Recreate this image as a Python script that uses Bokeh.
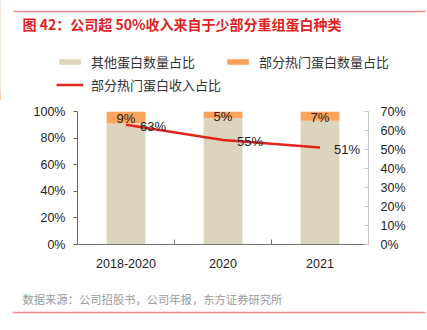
from bokeh.plotting import figure
from bokeh.layouts import column
from bokeh.models import (Range1d, LinearAxis, FixedTicker, Label,
                          Legend, LegendItem, ColumnDataSource, LabelSet)
from bokeh.embed import file_html
from bokeh.resources import INLINE
from bokeh.core.properties import value

# ---- data ----
categories = ["2018-2020", "2020", "2021"]
other_share = [91, 95, 93]          # 其他蛋白数量占比 (%)
hot_share = [9, 5, 7]               # 部分热门蛋白数量占比 (%)
hot_revenue = [63, 55, 51]          # 部分热门蛋白收入占比 (%)
left_ticks = [0, 20, 40, 60, 80, 100]
right_ticks = [0, 10, 20, 30, 40, 50, 60, 70]
series_names = ["其他蛋白数量占比", "部分热门蛋白数量占比", "部分热门蛋白收入占比"]

title_text = "图 42：公司超 50%收入来自于少部分重组蛋白种类"
source_text = "数据来源：公司招股书，公司年报，东方证券研究所"

# ---- derived ----
xs = [i + 0.5 for i in range(len(categories))]
tops = [o + h for o, h in zip(other_share, hot_share)]
src = ColumnDataSource(dict(
    x=xs, other=other_share, top=tops,
    hot_mid=[o + h / 2 for o, h in zip(other_share, hot_share)],
    hot_lbl=[f"{h}%" for h in hot_share],
    rev=hot_revenue,
    rev_lbl=[f"{r}%" for r in hot_revenue],
))

W = 427
HEAD_H, MAIN_H, FOOT_H = 100, 180, 50
FL, FR = 77, 368          # frame left / right (px)
FT, FB = 111, 244         # frame top / bottom in page px

BEIGE = "#ddd4bd"
ORANGE = "#fca25b"
RED = "#e3231c"
RULE = "#f08a8a"
AX_FONT = "Liberation Sans"
AX_SIZE = "12.5px"
CJK = "Noto Sans CJK SC"


def blank(h):
    # pixel-like ranges: x = px from left, y = px from top of this strip
    f = figure(width=W, height=h, output_backend="svg", toolbar_location=None,
               x_axis_location=None, y_axis_location=None,
               x_range=Range1d(0, W), y_range=Range1d(h, 0),
               min_border=0, min_border_left=0, min_border_right=0,
               min_border_top=0, min_border_bottom=0, frame_align=False,
               background_fill_color="white", border_fill_color="white")
    f.outline_line_color = None
    f.grid.visible = False
    return f


# ---- header: rule, title, legend ----
head = blank(HEAD_H)
head.segment(x0=[13], y0=[11], x1=[425], y1=[11], line_color=RULE, line_width=1.5)
head.add_layout(Label(x=22, y=23, text=title_text, text_baseline="middle", text_font=CJK,
                      text_font_size="14px", text_font_style="bold", text_color="#e0231f"))
# legend glyph renderers (same data, on an off-screen range of the header)
head.extra_x_ranges = {"off": Range1d(100, 101)}
h_other = head.vbar(x="x", bottom=0, top="other", width=0.4, source=src,
                    x_range_name="off", fill_color=BEIGE, line_color=None)
h_hot = head.vbar(x="x", bottom="other", top="top", width=0.4, source=src,
                  x_range_name="off", fill_color=ORANGE, line_color=None)
h_line = head.line(x="x", y="rev", source=src, x_range_name="off",
                   line_color=RED, line_width=2.5)
legend = Legend(items=[
    LegendItem(label=series_names[0], renderers=[h_other]),
    LegendItem(label=series_names[1], renderers=[h_hot]),
    LegendItem(label=series_names[2], renderers=[h_line]),
], orientation="horizontal", ncols=2, location=(56, HEAD_H - 94),
    padding=0, margin=0, spacing=3, glyph_width=27, glyph_height=7,
    label_height=20, label_standoff=8, border_line_color=None,
    background_fill_alpha=0, label_text_font=CJK,
    label_text_font_size="13px", label_text_color="#333333")
head.add_layout(legend, "center")

# ---- main chart ----
p = figure(width=W, height=MAIN_H, output_backend="svg", toolbar_location=None,
           x_range=Range1d(0, len(categories)), y_range=Range1d(0, 100),
           min_border_left=FL, min_border_right=W - FR,
           min_border_top=FT - HEAD_H, min_border_bottom=HEAD_H + MAIN_H - FB,
           frame_align=False,
           background_fill_color="white", border_fill_color="white")
p.extra_y_ranges = {"rev": Range1d(0, 70)}
p.outline_line_color = None
p.xgrid.visible = False
p.ygrid.visible = False

xa = p.xaxis[0]
xa.ticker = FixedTicker(ticks=xs, minor_ticks=list(range(1, len(categories))))
xa.major_label_overrides = {x: c for x, c in zip(xs, categories)}
xa.major_tick_line_color = None
xa.minor_tick_in = 5
xa.minor_tick_out = 0
xa.minor_tick_line_color = "#777777"
xa.axis_line_color = "#777777"
xa.major_label_text_font = AX_FONT
xa.major_label_text_font_size = AX_SIZE
xa.major_label_text_color = "#222222"
xa.major_label_standoff = 8

ya = p.yaxis[0]
ya.ticker = FixedTicker(ticks=left_ticks)
ya.major_label_overrides = {t: f"{t}%" for t in left_ticks}
ya.minor_tick_line_color = None
ya.major_tick_in = 0
ya.major_tick_out = 4
ya.axis_line_color = "#666666"
ya.major_tick_line_color = "#666666"
ya.major_label_text_font = AX_FONT
ya.major_label_text_font_size = AX_SIZE
ya.major_label_text_color = "#222222"
ya.major_label_standoff = 8

ra = LinearAxis(y_range_name="rev", ticker=FixedTicker(ticks=right_ticks))
ra.major_label_overrides = {t: f"{t}%" for t in right_ticks}
ra.minor_tick_line_color = None
ra.major_tick_in = 4
ra.major_tick_out = 0
ra.axis_line_color = "#c4c4c4"
ra.major_tick_line_color = "#c4c4c4"
ra.major_label_text_font = AX_FONT
ra.major_label_text_font_size = AX_SIZE
ra.major_label_text_color = "#222222"
ra.major_label_standoff = 12
p.add_layout(ra, "right")

p.vbar(x="x", bottom=0, top="other", width=0.4, source=src,
       fill_color=BEIGE, line_color=None)
p.vbar(x="x", bottom="other", top="top", width=0.4, source=src,
       fill_color=ORANGE, line_color=None)
p.line(x="x", y="rev", source=src, y_range_name="rev",
       line_color=RED, line_width=2.5)

p.add_layout(LabelSet(x="x", y="hot_mid", text="hot_lbl", source=src,
                      text_align="center", text_baseline="middle", y_offset=-1.5,
                      text_font=value(AX_FONT), text_font_size="13px",
                      text_color="#222222"))
p.add_layout(LabelSet(x="x", y="rev", text="rev_lbl", source=src, y_range_name="rev",
                      text_align="left", text_baseline="middle", x_offset=14, y_offset=-1.5,
                      text_font=value(AX_FONT), text_font_size="13px",
                      text_color="#222222"))

# ---- footer: source, rule ----
foot = blank(FOOT_H)
top0 = HEAD_H + MAIN_H
foot.add_layout(Label(x=22, y=298 - top0, text=source_text, text_baseline="middle",
                      text_font=CJK, text_font_size="11.3px", text_color="#9a9a9a"))
foot.segment(x0=[12], y0=[312 - top0], x1=[425], y1=[312 - top0],
             line_color=RULE, line_width=1.5)

layout = column(head, p, foot, spacing=0)
open("out.html", "w").write(file_html(layout, INLINE))
